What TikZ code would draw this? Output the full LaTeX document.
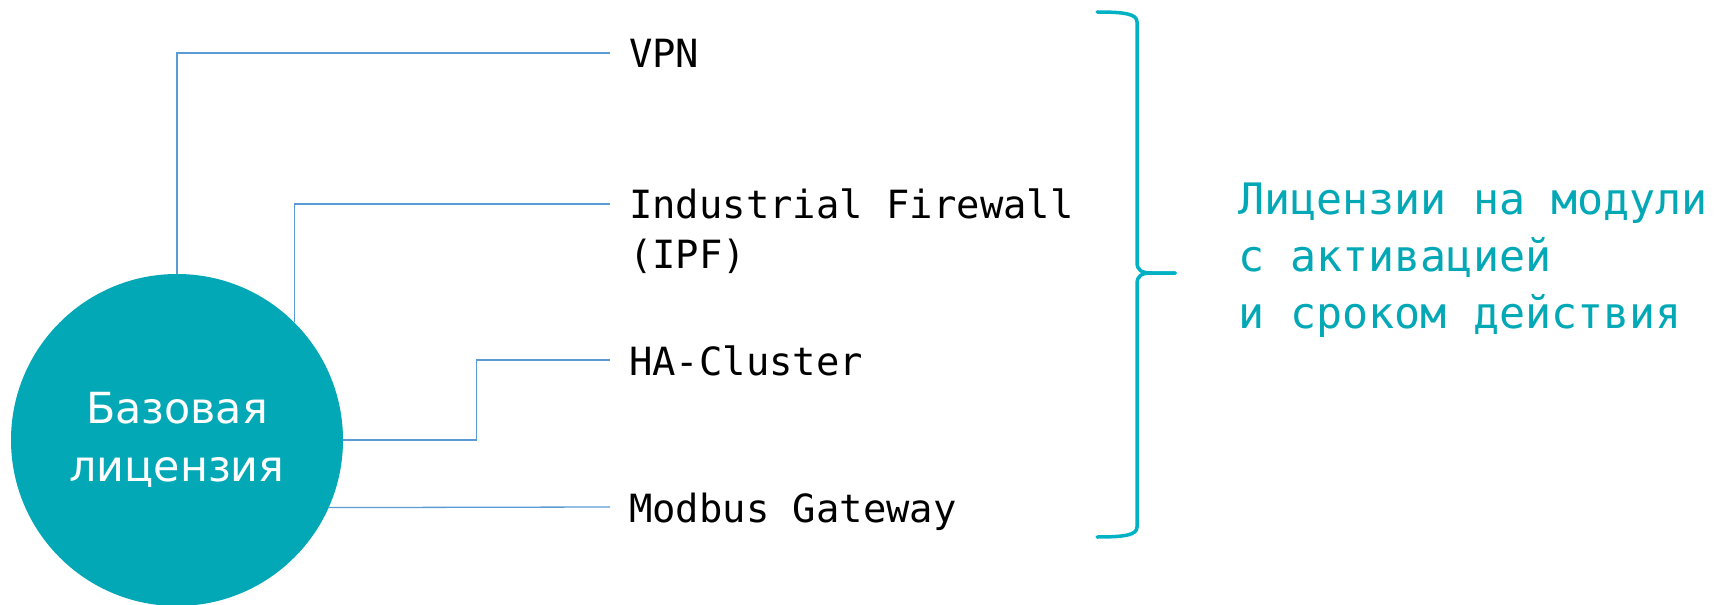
\documentclass[tikz,border=0pt]{standalone}
\usepackage{fontspec}
\setmainfont{DejaVu Sans}
\newfontfamily\monofont{DejaVu Sans Mono}
\definecolor{basefill}{HTML}{02A8B5}
\definecolor{bracecol}{HTML}{00B2C4}
\definecolor{linkcol}{HTML}{5B9BD5}
\tikzset{
  basecircle/.style={circle, fill=basefill, minimum size=332bp, inner sep=0pt,
    text=white, align=center, font=\fontsize{43}{58}\selectfont},
  modlabel/.style={anchor=base west, inner xsep=19bp, inner ysep=0pt,
    font=\monofont\fontsize{39}{50}\selectfont},
  link/.style={draw=linkcol, line width=1.3bp},
  bracestyle/.style={draw=bracecol, line width=3.5bp, line cap=round},
  notetext/.style={anchor=base west, inner sep=0pt, text=basefill,
    font=\monofont\fontsize{43.5}{57}\selectfont}
}
\begin{document}
\begin{tikzpicture}[x=1bp, y=-1bp]
\useasboundingbox (0,0) rectangle (1715,605);

% base licence
\node[basecircle] (base) at (177,440) {Базовая\\лицензия};

% module labels
\node[modlabel] (vpn) at (610,68) {VPN};
\node[modlabel] (ipf) at (610,219)
  {\begin{tabular}[t]{@{}l@{}}Industrial Firewall\\(IPF)\end{tabular}};
\node[modlabel] (ha) at (610,375) {HA-Cluster};
\node[modlabel] (mod) at (610,522) {Modbus Gateway};

% entry points of the connectors, at mid-height of each first line
\coordinate (vpnin) at ([yshift=15bp]vpn.base west);
\coordinate (ipfin) at ([yshift=15bp]ipf.base west);
\coordinate (hain)  at ([yshift=15bp]ha.base west);
\coordinate (modin) at ([yshift=15bp]mod.base west);

% connectors
\draw[link] (base.north) |- (vpnin);
\draw[link] (base.45) |- (ipfin);
\draw[link] (base.east) -- ++(133,0) |- (hain);
\draw[link] (base.-24) -- (modin);

% curly brace grouping the modules
\coordinate (btop) at (1097,12);
\coordinate (btip) at (1175,273);
\coordinate (bbot) at (1097,537);
\draw[bracestyle]
  (btop) .. controls (1125,12) and (1137,14) .. (1137,22)
  -- (1137,262) .. controls (1137,270) and (1141,273) .. (1152,273)
  -- (btip);
\draw[bracestyle]
  (btip) -- (1152,273) .. controls (1141,273) and (1137,276) .. (1137,284)
  -- (1137,527) .. controls (1137,535) and (1125,537) .. (bbot);

% note on the right
\node[notetext] (note) at (1238,215)
  {\begin{tabular}[t]{@{}l@{}}Лицензии на модули\\с активацией\\и сроком действия\end{tabular}};
\end{tikzpicture}
\end{document}
